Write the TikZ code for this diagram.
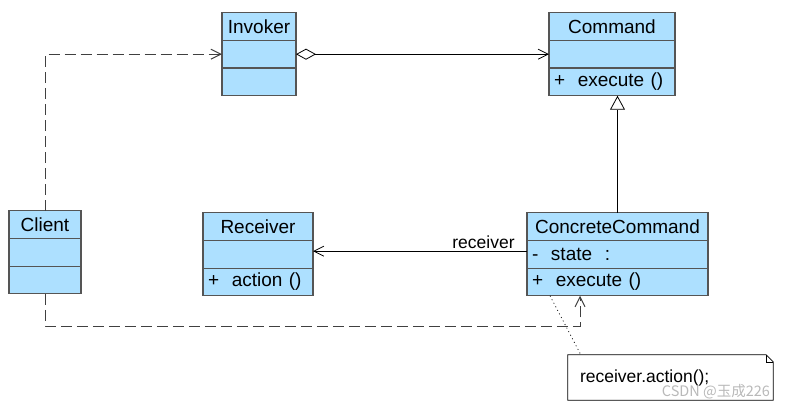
\documentclass[tikz,border=0pt]{standalone}
\usepackage{fontspec}
\setmainfont{Liberation Sans}
\newfontfamily\cjkfont{Noto Sans CJK SC}
\usetikzlibrary{positioning,calc,arrows.meta}
\definecolor{clsfill}{RGB}{173,224,255}
\definecolor{clsline}{RGB}{85,85,85}

\begin{document}
\begin{tikzpicture}[x=1pt,y=-1pt,
    part/.style={draw=clsline,line width=1.1pt,fill=clsfill,inner xsep=5pt,inner ysep=0pt,outer sep=0pt,minimum height=27.7pt,font=\fontsize{19}{22}\selectfont},
    head/.style={part,align=center},
    memb/.style={part,align=left},
    open/.style={-{Straight Barb[length=10pt,width=10pt]}},
    dep/.style={open,draw=black!75,line width=1pt,dash pattern=on 11pt off 5pt},
    small/.style={font=\fontsize{17.5}{20}\selectfont}]
  \useasboundingbox (0,0) rectangle (787,409);
  % classes
  \node[head,text width=64pt] (inv) at (259,26.5) {Invoker};
  \node[memb,text width=64pt,below=0pt of inv] (inv-a) {};
  \node[memb,text width=64pt,below=0pt of inv-a] (inv-o) {};
  \node[head,text width=116pt] (cmd) at (612,26.5) {Command};
  \node[memb,text width=116pt,below=0pt of cmd] (cmd-a) {};
  \node[memb,text width=116pt,below=0pt of cmd-a] (cmd-o) {+\ \ execute ()};
  \node[head,text width=62pt] (cli) at (45,224.5) {Client};
  \node[memb,text width=62pt,below=0pt of cli] (cli-a) {};
  \node[memb,text width=62pt,below=0pt of cli-a] (cli-o) {};
  \node[head,text width=100pt] (rcv) at (258,226.5) {Receiver};
  \node[memb,text width=100pt,below=0pt of rcv] (rcv-a) {};
  \node[memb,text width=100pt,below=0pt of rcv-a] (rcv-o) {+\ \ action ()};
  \node[head,text width=171pt] (cc) at (617.5,226.5) {ConcreteCommand};
  \node[memb,text width=171pt,below=0pt of cc] (cc-a) {-\ \ state\ \ :};
  \node[memb,text width=171pt,below=0pt of cc-a] (cc-o) {+\ \ execute ()};
  % note
  \node[small,text width=181pt,inner xsep=12pt,inner ysep=0pt,minimum height=45pt,align=left] (note) at (670.5,377.5) {receiver.action();};
  \draw[line width=0.8pt] (note.south west) -- (note.south east) -- ($(note.north east)+(0,7)$) -- ($(note.north east)+(-7,0)$) -- (note.north west) -- cycle;
  \draw[line width=0.6pt] ($(note.north east)+(-7,0)$) |- ($(note.north east)+(0,7)$);
  \node[font=\cjkfont\fontsize{14.5}{16}\selectfont,text=gray!55] (wm) at (716,392) {CSDN @玉成226};
  % relations
  \draw[dep] (cli.north) |- (inv-a.west);
  \draw[line width=0.8pt,{Diamond[open,length=20pt,width=11pt]}-{Straight Barb[length=10pt,width=10pt]}] (inv-a.east) -- (cmd-a.west);
  \draw[line width=0.8pt,-{Triangle[open,length=14pt,width=15pt]}] (cc.north) -- (cc.north |- cmd-o.south);
  \coordinate (assoc) at ($(cc-a.west)+(0,-3)$);
  \draw[open,line width=0.8pt] (assoc) -- (assoc -| rcv-a.east) node[small,pos=0,anchor=south east,inner sep=2pt,xshift=-10pt] (rlbl) {receiver};
  \coordinate (bend) at (580,326);
  \draw[dep] (cli-o.south) |- (bend) -- (bend |- cc-o.south);
  \draw[line width=0.7pt,dash pattern=on 1pt off 3pt] ($(cc-o.south west)+(23,0)$) -- ($(note.north west)+(13,0)$);
\end{tikzpicture}
\end{document}
